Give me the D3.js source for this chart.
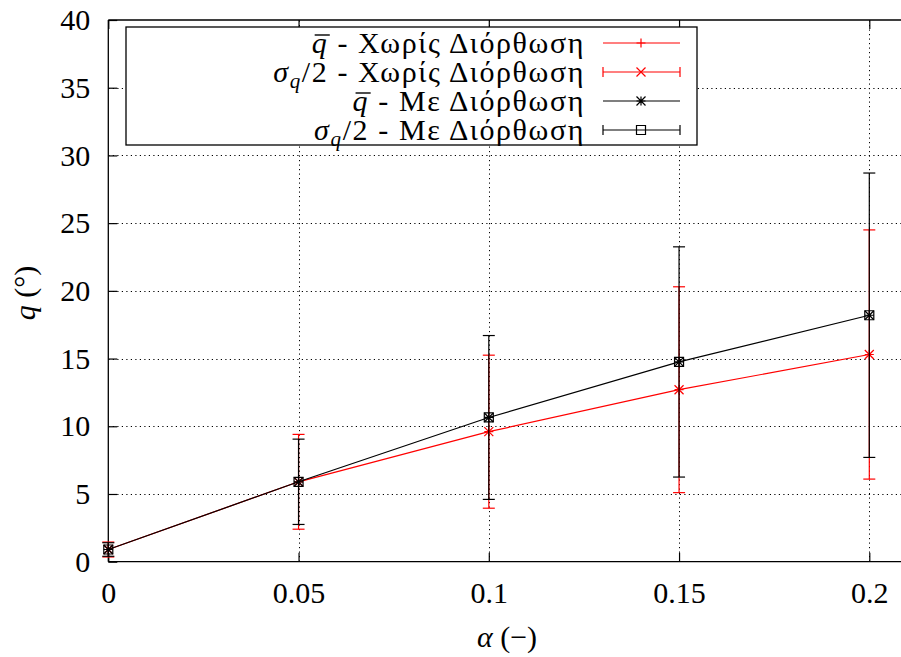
<!DOCTYPE html>
<html><head><meta charset="utf-8">
<script src="https://cdn.jsdelivr.net/npm/d3@7"></script>
<style>
body{margin:0;background:#fff}
svg text{font-family:"Liberation Serif","DejaVu Serif",serif;fill:#000}
</style>
</head><body>
<svg id="c" width="901" height="657"></svg>
<script>
// ---- data ----
const alpha = [0, 0.05, 0.1, 0.15, 0.2];
const qMeanNoCorr = [0.9, 5.9, 9.6, 12.7, 15.3];
const qHalfSigmaNoCorr = [0.55, 3.5, 5.65, 7.6, 9.2];
const qMeanCorr = [0.9, 5.9, 10.65, 14.75, 18.2];
const qHalfSigmaCorr = [0.5, 3.15, 6.05, 8.5, 10.5];
const xTickValues = [0, 0.05, 0.1, 0.15, 0.2];
const xTickLabels = ["0", "0.05", "0.1", "0.15", "0.2"];
const yTickValues = [0, 5, 10, 15, 20, 25, 30, 35, 40];
const yTickLabels = ["0", "5", "10", "15", "20", "25", "30", "35", "40"];
const legendLabels = ["Χωρίς Διόρθωση", "Χωρίς Διόρθωση", "Με Διόρθωση", "Με Διόρθωση"];

const svg = d3.select("#c");
const L = 108.3, T = 20, B = 561.7;
const x = d3.scaleLinear().domain([0, 0.21]).range([L, L + 0.21 * 3805]);
const y = d3.scaleLinear().domain([0, 40]).range([B, T]);
const R = x(0.21);
const FS = 30;

// grid
const grid = svg.append("g").attr("stroke", "#000").attr("stroke-width", 1)
  .attr("stroke-dasharray", "1.2,3.3");
grid.selectAll(".gx").data(xTickValues.filter(v => v > 0)).join("line")
  .attr("x1", d => Math.round(x(d)) + 0.5).attr("x2", d => Math.round(x(d)) + 0.5)
  .attr("y1", B).attr("y2", T);
grid.selectAll(".gy").data(yTickValues.filter(v => v > 0 && v < 40)).join("line")
  .attr("y1", d => Math.round(y(d)) + 0.5).attr("y2", d => Math.round(y(d)) + 0.5)
  .attr("x1", L).attr("x2", R);

// axes
const fmtX = d => xTickLabels[xTickValues.indexOf(d)];
const fmtY = d => yTickLabels[yTickValues.indexOf(d)];
const axB = svg.append("g").attr("transform", `translate(0,${B})`)
  .call(d3.axisBottom(x).tickValues(xTickValues).tickFormat(fmtX).tickSize(-9).tickPadding(20));
const axT = svg.append("g").attr("transform", `translate(0,${T})`)
  .call(d3.axisTop(x).tickValues(xTickValues).tickFormat("").tickSize(-9));
const axL = svg.append("g").attr("transform", `translate(${L},0)`)
  .call(d3.axisLeft(y).tickValues(yTickValues).tickFormat(fmtY).tickSize(-9).tickPadding(18));
[axB, axT, axL].forEach(a => {
  a.select(".domain").remove();
  a.selectAll("text").attr("font-family", "Liberation Serif").attr("font-size", FS);
  a.selectAll("line").attr("stroke", "#000").attr("stroke-width", 1.2);
});
// frame
svg.append("path").attr("fill", "none").attr("stroke", "#000").attr("stroke-width", 1.3)
  .attr("d", `M${L},${T}H${R}M${L},${B}H${R}M${L},${T}V${B}`);

// markers
function marker(g, type, cx, cy, color) {
  const s = 4.5;
  const p = d3.path();
  if (type === "plus" || type === "star") {
    p.moveTo(cx - s, cy); p.lineTo(cx + s, cy);
    p.moveTo(cx, cy - s); p.lineTo(cx, cy + s);
  }
  if (type === "cross" || type === "star") {
    p.moveTo(cx - s, cy - s); p.lineTo(cx + s, cy + s);
    p.moveTo(cx - s, cy + s); p.lineTo(cx + s, cy - s);
  }
  if (type === "square") {
    p.rect(cx - s, cy - s, 2 * s, 2 * s);
  }
  g.append("path").attr("d", p.toString()).attr("fill", "none").attr("stroke", color).attr("stroke-width", 1.2);
}

const line = d3.line().x(d => x(d[0])).y(d => y(d[1]));
function drawSeries(mean, half, color, lineMark, errMark) {
  const pts = alpha.map((a, i) => [a, mean[i]]);
  const g = svg.append("g");
  g.append("path").attr("d", line(pts)).attr("fill", "none").attr("stroke", color).attr("stroke-width", 1.2);
  pts.forEach(p => marker(g, lineMark, x(p[0]), y(p[1]), color));
  const ge = svg.append("g").attr("stroke", color).attr("stroke-width", 1.2);
  alpha.forEach((a, i) => {
    const cx = x(a), lo = y(mean[i] - half[i]), hi = y(mean[i] + half[i]);
    ge.append("line").attr("x1", cx).attr("x2", cx).attr("y1", lo).attr("y2", hi);
    ge.append("line").attr("x1", cx - 6).attr("x2", cx + 6).attr("y1", lo).attr("y2", lo);
    ge.append("line").attr("x1", cx - 6).attr("x2", cx + 6).attr("y1", hi).attr("y2", hi);
    marker(svg, errMark, cx, y(mean[i]), color);
  });
}
drawSeries(qMeanNoCorr, qHalfSigmaNoCorr, "#ff0000", "plus", "cross");
drawSeries(qMeanCorr, qHalfSigmaCorr, "#000000", "star", "square");

// legend
const lg = svg.append("g");
lg.append("rect").attr("x", 126).attr("y", 27).attr("width", 571).attr("height", 118)
  .attr("fill", "#fff").attr("stroke", "#000").attr("stroke-width", 1.3);
const rows = [
  {kind: "mean", color: "#ff0000", mark: "plus", err: false},
  {kind: "sigma", color: "#ff0000", mark: "cross", err: true},
  {kind: "mean", color: "#000000", mark: "star", err: false},
  {kind: "sigma", color: "#000000", mark: "square", err: true}
];
const rowY = [43, 72, 101, 130];
rows.forEach((r, i) => {
  const cy = rowY[i];
  const base = cy + 10;
  const t = lg.append("text").attr("x", 585).attr("y", base).attr("text-anchor", "end")
    .attr("font-size", FS).attr("letter-spacing", "1.6px");
  if (r.kind === "mean") {
    t.append("tspan").attr("font-style", "italic").text("q");
  } else {
    t.append("tspan").attr("font-style", "italic").text("σ");
    t.append("tspan").attr("font-style", "italic").attr("font-size", 21).attr("dy", 6).text("q");
    t.append("tspan").attr("dy", -6).text("/2");
  }
  t.append("tspan").text(" - " + legendLabels[i]);
  if (r.kind === "mean") {
    const n = t.node();
    const x0 = n.getStartPositionOfChar(0).x, x1 = n.getEndPositionOfChar(0).x;
    lg.append("line").attr("x1", x0 + 3).attr("x2", x1 + 1.5)
      .attr("y1", base - 18).attr("y2", base - 18).attr("stroke", "#000").attr("stroke-width", 1.4);
  }
  lg.append("line").attr("x1", 603).attr("x2", 680).attr("y1", cy).attr("y2", cy)
    .attr("stroke", r.color).attr("stroke-width", 1.2);
  if (r.err) {
    [603, 680].forEach(ex => lg.append("line").attr("x1", ex).attr("x2", ex)
      .attr("y1", cy - 5).attr("y2", cy + 5).attr("stroke", r.color).attr("stroke-width", 1.2));
  }
  marker(lg, r.mark, 641, cy, r.color);
});

// axis titles
const xt = svg.append("text").attr("x", 507).attr("y", 647).attr("text-anchor", "middle").attr("font-size", FS);
xt.append("tspan").attr("font-style", "italic").text("α");
xt.append("tspan").text(" (−)");
const yt = svg.append("text").attr("transform", "translate(35,293) rotate(-90)")
  .attr("text-anchor", "middle").attr("font-size", FS);
yt.append("tspan").attr("font-style", "italic").text("q");
yt.append("tspan").text(" (°)");
</script>
</body></html>
